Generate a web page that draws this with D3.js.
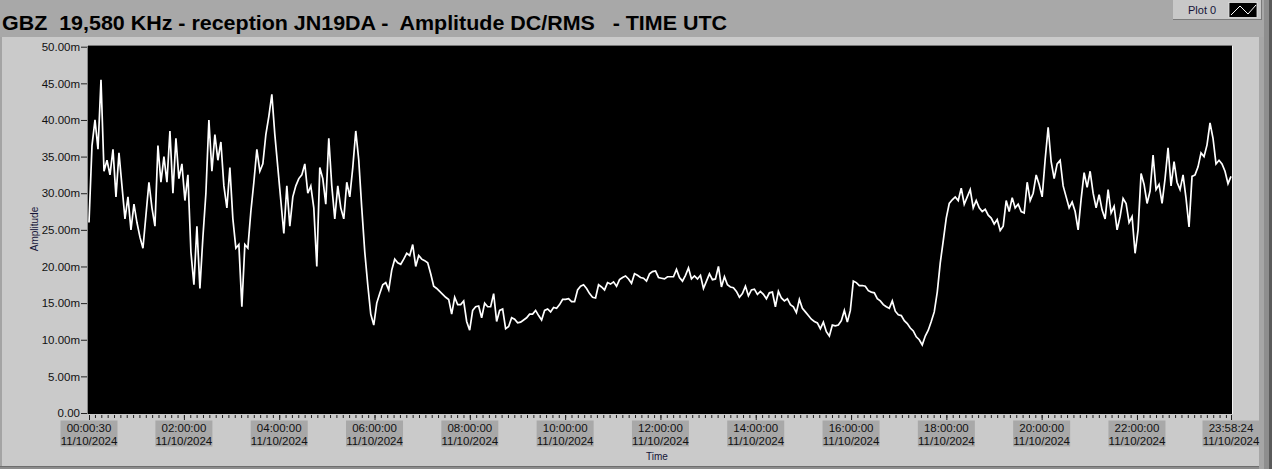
<!DOCTYPE html>
<html><head><meta charset="utf-8">
<script src="https://cdn.jsdelivr.net/npm/d3@7"></script>
<style>html,body{margin:0;padding:0;background:#a8a8a8;overflow:hidden}svg{display:block}</style>
</head><body><svg id="c" width="1272" height="469"></svg>
<script>
// ---- DATA ----
const titleText = "GBZ  19,580 KHz - reception JN19DA -  Amplitude DC/RMS   - TIME UTC";
const legendLabel = "Plot 0";
const xAxisTitle = "Time";
const yAxisTitle = "Amplitude";
const dateLabel = "11/10/2024";
const startTime = "00:00:30";
const endTime = "23:58:24";
const xTickLabels = ["00:00:30","02:00:00","04:00:00","06:00:00","08:00:00","10:00:00","12:00:00","14:00:00","16:00:00","18:00:00","20:00:00","22:00:00","23:58:24"];
const yTickValues = [0,5,10,15,20,25,30,35,40,45,50];
const yTickLabels = ["0.00","5.00m","10.00m","15.00m","20.00m","25.00m","30.00m","35.00m","40.00m","45.00m","50.00m"];
// amplitude in mV, samples evenly spaced from startTime to endTime
const amplitude = [
26.0,36.5,40.0,36.0,45.5,33.0,34.5,32.5,36.0,29.5,
35.5,31.0,26.5,29.5,25.0,28.5,26.0,24.0,22.5,27.0,
31.5,28.0,25.5,36.5,31.5,35.0,31.5,38.5,30.0,37.5,
32.0,34.0,29.0,32.5,22.0,17.5,25.5,17.0,24.0,30.0,
40.0,33.0,38.0,34.5,37.0,31.0,28.0,33.5,26.5,22.5,
23.0,14.5,23.0,22.5,27.5,31.5,36.0,33.0,34.0,38.0,
40.5,43.5,38.0,33.5,29.0,24.5,31.0,25.5,29.5,31.0,
32.0,32.5,34.0,30.0,31.0,28.0,20.0,33.5,32.0,28.5,
37.5,31.0,26.5,31.0,28.0,26.5,31.5,29.5,33.5,38.5,
34.5,28.0,22.0,17.5,13.5,12.0,15.0,16.3,17.5,17.8,
16.8,19.5,21.0,20.5,20.3,21.0,21.8,21.5,23.0,20.0,
21.5,21.0,20.8,20.5,19.0,17.3,17.0,16.6,16.2,15.8,
15.5,13.5,15.8,14.8,14.8,15.3,12.5,11.3,14.0,14.5,
14.6,13.0,15.0,14.5,14.5,16.3,12.5,14.0,14.2,11.5,
11.8,13.0,12.8,12.3,12.4,12.7,13.0,13.5,13.5,14.0,
13.3,12.7,14.0,14.2,13.8,14.4,14.3,14.8,15.5,15.5,
15.6,15.2,15.2,16.8,17.3,17.5,17.0,16.3,15.8,15.7,
17.5,17.2,16.8,17.8,17.6,17.9,17.3,18.2,18.5,18.7,
18.3,17.7,19.0,18.8,18.5,18.4,18.0,19.0,19.3,19.4,
18.5,18.4,18.3,18.6,18.6,18.6,19.6,18.5,18.0,18.8,
19.8,18.3,18.7,18.3,18.8,17.0,18.0,19.0,18.2,18.3,
20.0,17.2,18.6,17.5,17.2,17.1,16.6,15.8,16.3,17.3,
16.0,16.8,16.9,16.2,16.6,16.2,15.6,16.4,16.5,14.5,
16.6,15.7,15.3,15.6,14.8,14.5,13.7,15.5,14.3,13.8,
13.3,12.8,12.5,12.3,11.5,12.4,11.1,10.5,12.0,11.9,
12.0,12.6,14.0,12.4,14.0,18.0,17.8,17.4,17.4,17.3,
16.7,16.5,16.4,15.6,15.3,14.8,14.5,14.3,15.3,13.9,
13.4,13.3,12.6,12.2,11.6,11.2,10.4,10.0,9.3,10.5,
11.3,12.5,13.8,16.5,20.5,23.5,26.6,28.6,29.1,29.5,
29.0,30.7,28.5,29.5,30.5,28.0,29.0,28.0,27.5,27.8,
27.0,26.6,25.8,26.4,24.9,25.5,29.0,27.5,29.4,28.0,
28.5,27.5,27.3,31.5,29.0,30.0,32.5,31.2,29.5,34.6,
39.0,34.3,32.0,34.0,34.5,31.0,29.5,28.0,28.8,27.5,
25.0,29.2,32.8,30.8,33.0,30.0,28.0,29.8,27.7,26.5,
30.5,27.3,28.2,25.0,26.8,29.3,28.6,26.0,26.8,21.8,
25.0,32.7,31.2,28.6,30.3,35.2,30.5,31.2,28.6,32.0,
36.2,31.0,34.3,31.5,30.5,32.5,29.3,25.4,32.3,32.5,
33.6,35.5,35.0,36.6,39.6,37.5,34.0,34.5,34.0,33.0,
31.3,32.3
];

// ---- DRAW ----
const toSec = s => { const p = s.split(":").map(Number); return p[0]*3600 + p[1]*60 + p[2]; };
const t0 = toSec(startTime), t1 = toSec(endTime);
const n = amplitude.length;
const series = amplitude.map((v, i) => ({t: t0 + i * (t1 - t0) / (n - 1), v}));

const svg = d3.select("#c");
const W = 1272, H = 469;
const plot = {x0: 88, x1: 1232, y0: 46, y1: 414};
const FONT = "Liberation Sans, Arial, sans-serif";

// backgrounds
svg.append("rect").attr("x",0).attr("y",0).attr("width",W).attr("height",H).attr("fill","#a8a8a8");
svg.append("rect").attr("x",0).attr("y",37).attr("width",1259).attr("height",429).attr("fill","#cacaca");
svg.append("rect").attr("x",0).attr("y",37).attr("width",2).attr("height",429).attr("fill","#a4a4a4");
svg.append("rect").attr("x",0).attr("y",466).attr("width",1259).attr("height",3).attr("fill","#8c8c8c");
svg.append("rect").attr("x",0).attr("y",466).attr("width",1259).attr("height",1).attr("fill","#6e6e6e");
// right-side strips
svg.append("rect").attr("x",1259).attr("y",37).attr("width",5).attr("height",432).attr("fill","#a6a6a6");
svg.append("rect").attr("x",1264).attr("y",0).attr("width",5).attr("height",469).attr("fill","#8e8e8e");
svg.append("rect").attr("x",1269).attr("y",0).attr("width",3).attr("height",469).attr("fill","#5a5a5a");

// title
svg.append("text").attr("x",2).attr("y",30)
  .attr("font-family",FONT).attr("font-weight","bold")
  .attr("font-size",19.5).attr("fill","#000").style("white-space","pre")
  .attr("textLength",725).attr("lengthAdjust","spacingAndGlyphs")
  .text(titleText);

// legend
const lg = svg.append("g");
lg.append("rect").attr("x",1173).attr("y",0).attr("width",89).attr("height",20).attr("fill","#c8c8c8");
lg.append("rect").attr("x",1173).attr("y",19).attr("width",89).attr("height",1).attr("fill","#7a7a7a");
lg.append("rect").attr("x",1261).attr("y",0).attr("width",1).attr("height",20).attr("fill","#7a7a7a");
lg.append("text").attr("x",1188).attr("y",14).attr("font-family",FONT)
  .attr("font-size",11).attr("fill","#141438").text(legendLabel);
lg.append("rect").attr("x",1229).attr("y",2.5).attr("width",28).attr("height",15).attr("fill","#000")
  .attr("stroke","#e8e8e8").attr("stroke-width",0.8);
lg.append("polyline").attr("points","1231,15 1240,6 1248,14 1256,5").attr("fill","none")
  .attr("stroke","#fff").attr("stroke-width",1);

// plot area
svg.append("rect").attr("x",plot.x0).attr("y",plot.y0).attr("width",plot.x1-plot.x0).attr("height",plot.y1-plot.y0).attr("fill","#000");
svg.append("line").attr("x1",plot.x0).attr("x2",plot.x1).attr("y1",plot.y0-0.5).attr("y2",plot.y0-0.5).attr("stroke","#777");
svg.append("line").attr("x1",plot.x0-0.5).attr("x2",plot.x0-0.5).attr("y1",plot.y0).attr("y2",plot.y1).attr("stroke","#888");
svg.append("line").attr("x1",plot.x1+0.5).attr("x2",plot.x1+0.5).attr("y1",plot.y0).attr("y2",plot.y1).attr("stroke","#f2f2f2");

const x = d3.scaleLinear().domain([t0, t1]).range([89, 1231]);
const y = d3.scaleLinear().domain([0, 50]).range([413, 46.7]);

// Y axis
const yAxis = svg.append("g").attr("transform","translate(87,0)")
  .call(d3.axisLeft(y).tickValues(yTickValues).tickSize(6).tickPadding(1)
    .tickFormat((d,i) => yTickLabels[i]));
yAxis.select(".domain").remove();
yAxis.selectAll("line").attr("stroke","#222");
yAxis.selectAll("text").attr("font-family",FONT).attr("font-size",11.5).attr("fill","#111");

// X axis ticks
const majorSecs = xTickLabels.map(toSec);
const minorSecs = d3.range(480, t1, 480).filter(s => s > t0);
const xMinor = svg.append("g").attr("transform","translate(0,414)")
  .call(d3.axisBottom(x).tickValues(minorSecs).tickSize(3).tickFormat(""));
xMinor.select(".domain").remove();
xMinor.selectAll("line").attr("stroke","#222").attr("transform","translate(0,1)");
const xMajor = svg.append("g").attr("transform","translate(0,414)")
  .call(d3.axisBottom(x).tickValues(majorSecs).tickSize(5).tickFormat(""));
xMajor.select(".domain").remove();
xMajor.selectAll("line").attr("stroke","#222").attr("transform","translate(0,1)");

// X tick label boxes
const lab = svg.append("g").selectAll("g").data(xTickLabels).join("g")
  .attr("transform", d => `translate(${x(toSec(d))},0)`);
lab.append("rect").attr("x",-28.5).attr("y",420.5).attr("width",57).attr("height",26).attr("fill","#a8a8a8");
lab.append("text").attr("y",432).attr("text-anchor","middle")
  .attr("font-family",FONT).attr("font-size",11.5).attr("fill","#111").text(d => d);
lab.append("text").attr("y",445).attr("text-anchor","middle")
  .attr("font-family",FONT).attr("font-size",11.5).attr("fill","#111").text(dateLabel);

// axis titles
svg.append("text").attr("x",657).attr("y",460).attr("text-anchor","middle")
  .attr("font-family",FONT).attr("font-size",10).attr("fill","#141438").text(xAxisTitle);
svg.append("text").attr("transform","translate(38,229) rotate(-90)").attr("text-anchor","middle")
  .attr("font-family",FONT).attr("font-size",10).attr("fill","#141438").text(yAxisTitle);

// data line
const line = d3.line().x(d => x(d.t)).y(d => y(d.v));
svg.append("path").datum(series).attr("d", line).attr("fill","none")
  .attr("stroke","#fff").attr("stroke-width",1.7).attr("stroke-linejoin","miter");
</script></body></html>
